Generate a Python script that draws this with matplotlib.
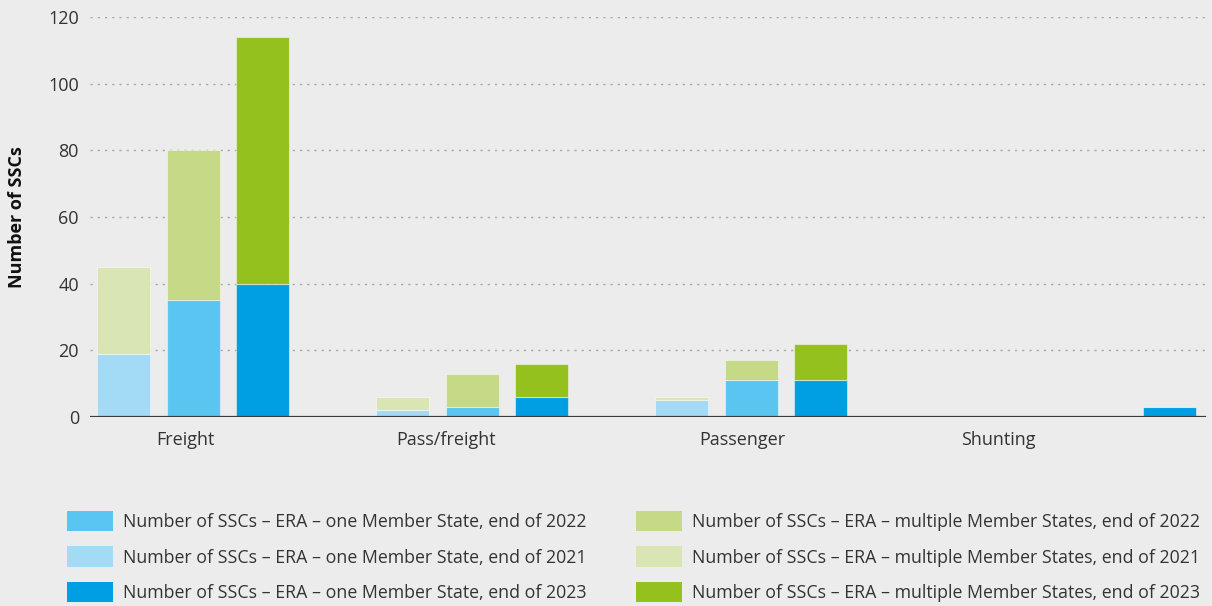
import numpy as np
import matplotlib
matplotlib.use("Agg")
import matplotlib.pyplot as plt
from matplotlib.patches import Patch

plt.rcParams["font.family"] = ["Open Sans", "DejaVu Sans"]

categories = ["Freight", "Pass/freight", "Passenger", "Shunting"]

one_2021 = [19, 2, 5, 0]
multi_2021 = [26, 4, 1, 0]
one_2022 = [35, 3, 11, 0]
multi_2022 = [45, 10, 6, 0]
one_2023 = [40, 6, 11, 3]
multi_2023 = [74, 10, 11, 0]

yticks = [0, 20, 40, 60, 80, 100, 120]

C_ONE = {"2021": "#a3daf6", "2022": "#5bc5f2", "2023": "#009fe3"}
C_MULTI = {"2021": "#d9e6b3", "2022": "#c5d986", "2023": "#95c11f"}
BG = "#ececec"

# slot of each year's bar inside a category group (shunting 2023 sits in the last slot)
slot_2021 = [0, 0, 0, 0]
slot_2022 = [1, 1, 1, 1]
slot_2023 = [2, 2, 2, 3]
label_pos = [1.37, 5.10, 9.36, 13.02]

fig = plt.figure(figsize=(12.12, 6.06), dpi=100, facecolor=BG)
ax = fig.add_axes([90 / 1212, 1 - 417 / 606, 1120 / 1212, 400 / 606])
ax.set_facecolor(BG)

base = np.arange(len(categories)) * 4 + 0.48
w = 0.76
edge = dict(edgecolor=(1, 1, 1, 0.45), linewidth=0.8)

series = [
    ("2021", one_2021, multi_2021, slot_2021),
    ("2022", one_2022, multi_2022, slot_2022),
    ("2023", one_2023, multi_2023, slot_2023),
]
for year, one, multi, slot in series:
    x = base + np.array(slot)
    ax.bar(x, one, w, color=C_ONE[year], zorder=3, **edge)
    ax.bar(x, multi, w, bottom=one, color=C_MULTI[year], zorder=3, **edge)

ax.set_xlim(0, 16.06)
ax.set_ylim(0, 120)
ax.set_yticks(yticks)
ax.yaxis.grid(True, color="#a8a8a8", linestyle=(0, (1.6, 3.6)), linewidth=1.0, zorder=0)
ax.tick_params(axis="y", length=0, pad=8, labelsize=13, labelcolor="#333333")
ax.set_xticks(label_pos)
ax.set_xticklabels(categories, fontsize=13, color="#333333")
ax.tick_params(axis="x", length=0, pad=10)
for s in ["top", "right", "left", "bottom"]:
    ax.spines[s].set_visible(False)
ax.axhline(0, color="#3c3c3c", linewidth=1.6, zorder=4, xmax=0.9955)

fig.text(17 / 1212, 1 - 217 / 606, "Number of SSCs", rotation=90, fontsize=13,
         fontweight="bold", ha="center", va="center", color="#111111")

labels = [
    "Number of SSCs \u2013 ERA \u2013 one Member State, end of 2022",
    "Number of SSCs \u2013 ERA \u2013 one Member State, end of 2021",
    "Number of SSCs \u2013 ERA \u2013 one Member State, end of 2023",
    "Number of SSCs \u2013 ERA \u2013 multiple Member States, end of 2022",
    "Number of SSCs \u2013 ERA \u2013 multiple Member States, end of 2021",
    "Number of SSCs \u2013 ERA \u2013 multiple Member States, end of 2023",
]
colors = [C_ONE["2022"], C_ONE["2021"], C_ONE["2023"],
          C_MULTI["2022"], C_MULTI["2021"], C_MULTI["2023"]]
handles = [Patch(facecolor=c, edgecolor="none") for c in colors]
fig.legend(handles, labels, ncol=2, loc="upper left",
           bbox_to_anchor=(58 / 1212, 1 - 502 / 606), frameon=False,
           fontsize=12.8, labelcolor="#333333", handlelength=2.6, handleheight=1.4,
           handletextpad=0.55, columnspacing=2.8, labelspacing=0.84, borderpad=0)

fig.savefig("out.png", dpi=100, facecolor=BG)
